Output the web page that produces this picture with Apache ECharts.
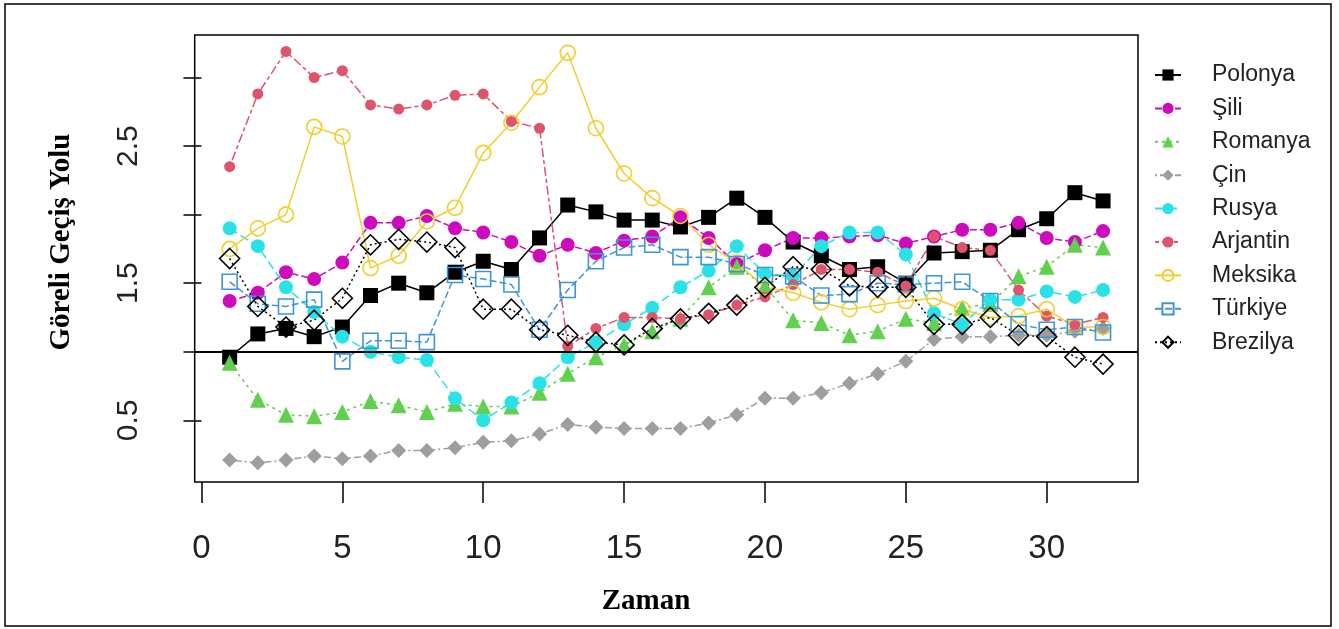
<!DOCTYPE html>
<html>
<head>
<meta charset="utf-8">
<script src="https://cdn.jsdelivr.net/npm/echarts@6/dist/echarts.min.js"></script>
<style>html,body{margin:0;padding:0;background:#fff}#c{width:1339px;height:629px}</style>
</head>
<body>
<div id="c"></div>
<script>
var zaman = [1,2,3,4,5,6,7,8,9,10,11,12,13,14,15,16,17,18,19,20,21,22,23,24,25,26,27,28,29,30,31,32];
var polonya  = [0.96,1.13,1.17,1.11,1.18,1.41,1.50,1.43,1.58,1.66,1.60,1.83,2.07,2.02,1.96,1.96,1.91,1.98,2.12,1.98,1.80,1.70,1.60,1.62,1.50,1.72,1.73,1.74,1.89,1.97,2.16,2.10];
var sili     = [1.37,1.43,1.58,1.53,1.65,1.94,1.94,1.99,1.90,1.87,1.80,1.70,1.78,1.72,1.81,1.84,1.98,1.83,1.64,1.74,1.83,1.83,1.84,1.85,1.79,1.84,1.89,1.89,1.94,1.83,1.80,1.88];
var romanya  = [0.92,0.65,0.54,0.53,0.56,0.64,0.61,0.56,0.62,0.60,0.60,0.70,0.84,0.96,1.05,1.15,1.24,1.47,1.62,1.48,1.23,1.21,1.12,1.15,1.24,1.21,1.32,1.35,1.55,1.62,1.78,1.76];
var cin      = [0.21,0.19,0.21,0.24,0.22,0.24,0.28,0.28,0.30,0.34,0.35,0.40,0.47,0.45,0.44,0.44,0.44,0.48,0.54,0.66,0.66,0.70,0.77,0.84,0.93,1.09,1.11,1.11,1.12,1.12,1.15,1.17];
var rusya    = [1.90,1.77,1.47,1.29,1.11,1.00,0.96,0.94,0.66,0.50,0.63,0.77,0.96,1.07,1.20,1.32,1.47,1.59,1.77,1.57,1.55,1.77,1.87,1.87,1.71,1.28,1.20,1.38,1.38,1.44,1.40,1.45];
var arjantin = [2.35,2.88,3.19,3.00,3.05,2.80,2.77,2.80,2.87,2.88,2.68,2.63,1.04,1.17,1.25,1.25,1.24,1.27,1.34,1.40,1.49,1.60,1.60,1.58,1.48,1.84,1.76,1.74,1.45,1.26,1.20,1.25];
var meksika  = [1.75,1.90,2.00,2.64,2.57,1.61,1.70,1.95,2.05,2.45,2.67,2.93,3.18,2.63,2.30,2.12,1.99,1.78,1.65,1.47,1.43,1.36,1.31,1.34,1.37,1.39,1.31,1.25,1.26,1.31,1.18,1.18];
var turkiye  = [1.51,1.35,1.33,1.38,0.93,1.08,1.08,1.07,1.56,1.53,1.49,1.16,1.45,1.66,1.76,1.78,1.69,1.69,1.64,1.56,1.55,1.41,1.42,1.50,1.49,1.50,1.51,1.37,1.20,1.16,1.18,1.14];
var brezilya = [1.68,1.33,1.18,1.23,1.39,1.78,1.82,1.80,1.76,1.31,1.31,1.16,1.12,1.07,1.05,1.17,1.24,1.28,1.34,1.47,1.62,1.60,1.48,1.47,1.47,1.20,1.20,1.25,1.12,1.11,0.96,0.91];
var xTicks = [0,5,10,15,20,25,30];
var yTicks = [0.5,1,1.5,2,2.5,3];
var yLabels = [0.5,1.5,2.5];
var xTitle = 'Zaman';
var yTitle = 'Göreli Geçiş Yolu';

function pairs(v){ return zaman.map(function(x,i){ return [x, v[i]]; }); }

var specs = [
  {name:'Polonya',  data:polonya,  color:'#000000', symbol:'rect',     size:15, fill:true,  dash:'solid'},
  {name:'Şili',     data:sili,     color:'#CD0BBC', symbol:'circle',   size:14, fill:true,  dash:[7,3]},
  {name:'Romanya',  data:romanya,  color:'#61D04F', symbol:'triangle', size:16, fill:true,  dash:[3,4]},
  {name:'Çin',      data:cin,      color:'#9E9E9E', symbol:'diamond',  size:15, fill:true,  dash:[2,3,7,3]},
  {name:'Rusya',    data:rusya,    color:'#28E2E5', symbol:'circle',   size:14, fill:true,  dash:[9,4]},
  {name:'Arjantin', data:arjantin, color:'#DF536B', symbol:'circle',   size:11, fill:true,  dash:[4,3,9,3]},
  {name:'Meksika',  data:meksika,  color:'#F2CE2E', symbol:'circle',   size:15, fill:false, dash:'solid'},
  {name:'Türkiye',  data:turkiye,  color:'#3F95D8', symbol:'rect',     size:15, fill:false, dash:[7,3]},
  {name:'Brezilya', data:brezilya, color:'#000000', symbol:'diamond',  size:20, fill:false, dash:[2,3]}
];

var series = specs.map(function(s){
  return {
    name: s.name, type: 'line', data: pairs(s.data),
    symbol: s.symbol, symbolSize: s.size, showSymbol: true,
    lineStyle: {color: s.color, width: 1.5, type: s.dash},
    itemStyle: s.fill ? {color: s.color, borderWidth: 0}
                      : {color: 'rgba(255,255,255,0)', borderColor: s.color, borderWidth: 1.6},
    emphasis: {disabled: true}, animation: false
  };
});
series[0].markLine = {
  silent: true, symbol: 'none', label: {show: false},
  lineStyle: {color: '#000', width: 2, type: 'solid'},
  data: [{yAxis: 1}]
};

var chart = echarts.init(document.getElementById('c'), null, {renderer: 'canvas'});
chart.setOption({
  animation: false,
  backgroundColor: '#fff',
  grid: {left: 194.7, right: 201, top: 35, bottom: 147, show: true,
         borderColor: '#000', borderWidth: 1.5, backgroundColor: 'transparent',
         containLabel: false, outerBoundsMode: 'none'},
  xAxis: {
    type: 'value', min: -0.24, max: 33.24,
    axisLine: {show: false},
    axisTick: {show: true, length: 21, customValues: xTicks, lineStyle: {color: '#000', width: 1.5}},
    axisLabel: {customValues: xTicks, margin: 50, fontFamily: 'Liberation Sans', fontSize: 33, color: '#222'},
    splitLine: {show: false}
  },
  yAxis: {
    type: 'value', min: 0.05, max: 3.31,
    axisLine: {show: false},
    axisTick: {show: true, length: 18, customValues: yTicks, lineStyle: {color: '#000', width: 1.5}},
    axisLabel: {customValues: yLabels, rotate: 90, margin: 51, fontFamily: 'Liberation Sans', fontSize: 30, color: '#222',
                formatter: function(v){ return v.toFixed(1); }},
    splitLine: {show: false}
  },
  legend: {
    orient: 'vertical', left: 1149, top: 58, itemWidth: 26, itemHeight: 14, itemGap: 9.4,
    textStyle: {fontFamily: 'Liberation Sans', fontSize: 23, lineHeight: 24, color: '#222', padding: [0,0,0,26]},
    data: specs.map(function(s){ return s.name; }),
    selectedMode: false
  },
  graphic: [
    {type: 'rect', shape: {x: 5, y: 4, width: 1326, height: 622},
     style: {fill: 'none', stroke: '#000', lineWidth: 1.5}, silent: true, z: 100},
    {type: 'text', x: 646, y: 602, silent: true,
     style: {text: xTitle, font: 'bold 29px "Liberation Serif"', fill: '#000', align: 'center', verticalAlign: 'middle'}},
    {type: 'text', x: 62, y: 242, rotation: Math.PI / 2, silent: true,
     style: {text: yTitle, font: 'bold 29px "Liberation Serif"', fill: '#000', align: 'center', verticalAlign: 'middle'}}
  ],
  series: series
});
</script>
</body>
</html>
